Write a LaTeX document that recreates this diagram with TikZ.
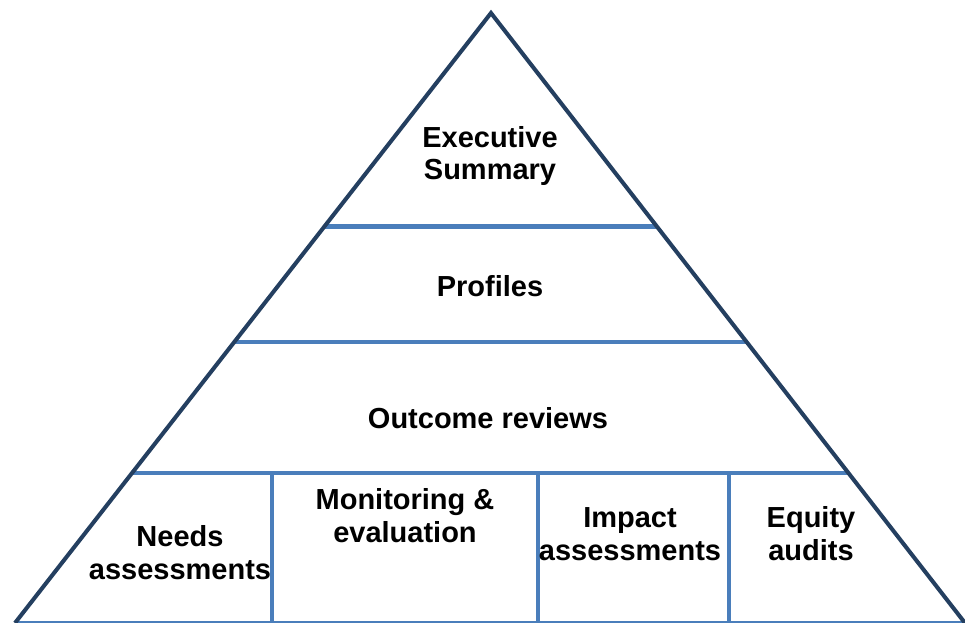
\documentclass[tikz,border=0pt]{standalone}
\usepackage{fontspec}
\setmainfont{Liberation Sans}
\usetikzlibrary{calc}

\begin{document}
\begin{tikzpicture}[x=0.02cm,y=-0.02cm]
	\tikzset{
		edge/.style={draw=edgecol, line width=2.3pt, line join=miter},
		tier/.style={draw=tiercol, line width=2.3pt},
		lbl/.style={font=\fontsize{16.5}{18.7}\selectfont\bfseries, align=center, inner sep=0pt}
	}
	\definecolor{edgecol}{HTML}{243F60}
	\definecolor{tiercol}{HTML}{4A7EBB}
	\useasboundingbox (0,0) rectangle (965,623);
	% outline
	\coordinate (top) at (491,13);
	\coordinate (bl) at (15,623);
	\coordinate (br) at (965,623);
	% tier lines
	\coordinate (l1) at ($(top)!0.350!(bl)$);
	\coordinate (r1) at ($(top)!0.350!(br)$);
	\coordinate (l2) at ($(top)!0.539!(bl)$);
	\coordinate (r2) at ($(top)!0.539!(br)$);
	\coordinate (l3) at ($(top)!0.754!(bl)$);
	\coordinate (r3) at ($(top)!0.754!(br)$);
	\draw [tier] (l1) -- (r1);
	\draw [tier] (l2) -- (r2);
	\draw [tier] (l3) -- (r3);
	\draw [tier] (bl) -- (br);
	% bottom columns
	\coordinate (c1) at (272,472);
	\coordinate (c2) at (538,472);
	\coordinate (c3) at (729,472);
	\draw [tier] (c1) -- (c1 |- bl);
	\draw [tier] (c2) -- (c2 |- bl);
	\draw [tier] (c3) -- (c3 |- bl);
	\draw [edge] (bl) -- (top) -- (br);
	% labels
	\node [lbl] (exec) at (490,156) {Executive\\Summary};
	\node [lbl] (prof) at (490,286) {Profiles};
	\node [lbl] (outc) at (488,418) {Outcome reviews};
	\node [lbl] (need) at (180,553) {Needs\\assessments};
	\node [lbl] (moni) at (405,516) {Monitoring \&\\evaluation};
	\node [lbl] (impa) at (630,534) {Impact\\assessments};
	\node [lbl] (equi) at (811,534) {Equity\\audits};
\end{tikzpicture}
\end{document}
